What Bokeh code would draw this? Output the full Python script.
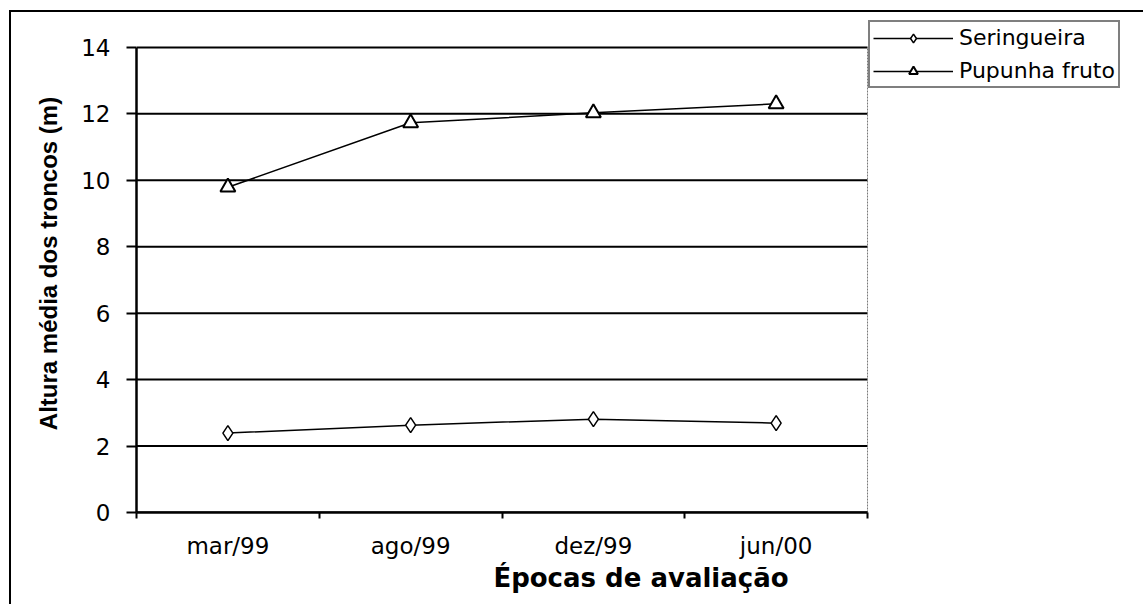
from bokeh.plotting import figure
from bokeh.models import FixedTicker, Legend, LegendItem, Range1d, ColumnDataSource
from bokeh.embed import file_html
from bokeh.resources import INLINE

categories = ["mar/99", "ago/99", "dez/99", "jun/00"]
seringueira = [2.39, 2.63, 2.81, 2.69]
pupunha = [9.79, 11.73, 12.03, 12.3]
y_ticks = [0, 2, 4, 6, 8, 10, 12, 14]

n = len(categories)
xc = [i + 0.5 for i in range(n)]
src = ColumnDataSource(dict(x=xc, s=seringueira, p=pupunha))

TICK_FONT = "DejaVu Sans"

# frame extends right/up to hold the legend; axes are bounded to the data area
p = figure(width=1134, height=594, output_backend="svg", toolbar_location=None,
           x_range=Range1d(0, 5.521), y_range=Range1d(0, 14.99),
           min_border_left=125, min_border_right=0, min_border_top=2, min_border_bottom=94)
p.margin = (10, 0, 0, 9)
p.styles = {"border-left": "2px solid black", "border-top": "2px solid black",
            "border-right": "0px none white", "border-bottom": "0px none white",
            "outline": "none", "box-shadow": "none"}
p.background_fill_color = "white"
p.border_fill_color = "white"
p.outline_line_color = None
p.xgrid.visible = False
p.ygrid.visible = False

# gridlines and right edge of the plot area
p.segment(x0=[0] * len(y_ticks), x1=[n] * len(y_ticks), y0=y_ticks, y1=y_ticks,
          line_color="black", line_width=2)
p.segment(x0=[n], x1=[n], y0=[y_ticks[0]], y1=[y_ticks[-1]],
          line_color="#777777", line_width=1, line_dash="2 1")

# x axis
p.xaxis.bounds = (0, n)
p.xaxis.ticker = FixedTicker(ticks=xc, minor_ticks=list(range(n + 1)))
p.xaxis.major_label_overrides = {x: c for x, c in zip(xc, categories)}
p.xaxis.major_tick_out = 0
p.xaxis.major_tick_in = 0
p.xaxis.minor_tick_out = 6
p.xaxis.minor_tick_in = 0
p.xaxis.minor_tick_line_width = 2
p.xaxis.axis_line_width = 2.5
p.xaxis.axis_line_color = "black"
p.xaxis.major_label_text_font = TICK_FONT
p.xaxis.major_label_text_font_size = "23px"
p.xaxis.major_label_text_color = "black"
p.xaxis.major_label_standoff = 14
p.xaxis.axis_label = "Épocas de avaliação"
p.xaxis.axis_label_text_font = "DejaVu Sans"
p.xaxis.axis_label_text_font_style = "bold"
p.xaxis.axis_label_text_font_size = "26px"
p.xaxis.axis_label_text_color = "black"
p.xaxis.axis_label_standoff = 1

# y axis
p.yaxis.bounds = (y_ticks[0], y_ticks[-1])
p.yaxis.ticker = FixedTicker(ticks=y_ticks, minor_ticks=[])
p.yaxis.major_tick_out = 10
p.yaxis.major_tick_in = 0
p.yaxis.major_tick_line_width = 2
p.yaxis.axis_line_width = 2.5
p.yaxis.axis_line_color = "black"
p.yaxis.major_label_text_font = TICK_FONT
p.yaxis.major_label_text_font_size = "23px"
p.yaxis.major_label_text_color = "black"
p.yaxis.major_label_standoff = 16
p.yaxis.axis_label = "Altura média dos troncos (m)"
p.yaxis.axis_label_text_font = "Liberation Sans"
p.yaxis.axis_label_text_font_style = "bold"
p.yaxis.axis_label_text_font_size = "24px"
p.yaxis.axis_label_text_color = "black"
p.yaxis.axis_label_standoff = 16

l1 = p.line("x", "s", source=src, line_color="black", line_width=1.5)
m1 = p.scatter("x", "s", source=src, marker="diamond", size=15, fill_color="white",
               line_color="black", line_width=1.5)
l2 = p.line("x", "p", source=src, line_color="black", line_width=1.5)
m2 = p.scatter("x", "p", source=src, marker="triangle", size=15, fill_color="white",
               line_color="black", line_width=2)

legend = Legend(items=[LegendItem(label="Seringueira", renderers=[l1, m1]),
                       LegendItem(label="Pupunha fruto", renderers=[l2, m2])],
                location=(732, 424))
legend.border_line_color = "black"
legend.border_line_width = 2
legend.background_fill_color = "white"
legend.background_fill_alpha = 1
legend.label_text_font = "DejaVu Sans"
legend.label_text_font_size = "22px"
legend.label_text_color = "black"
legend.glyph_width = 80
legend.glyph_height = 22
legend.label_height = 22
legend.label_standoff = 6
legend.spacing = 8
legend.padding = 3
legend.margin = 0
p.add_layout(legend)

open("out.html", "w").write(file_html(p, INLINE))
